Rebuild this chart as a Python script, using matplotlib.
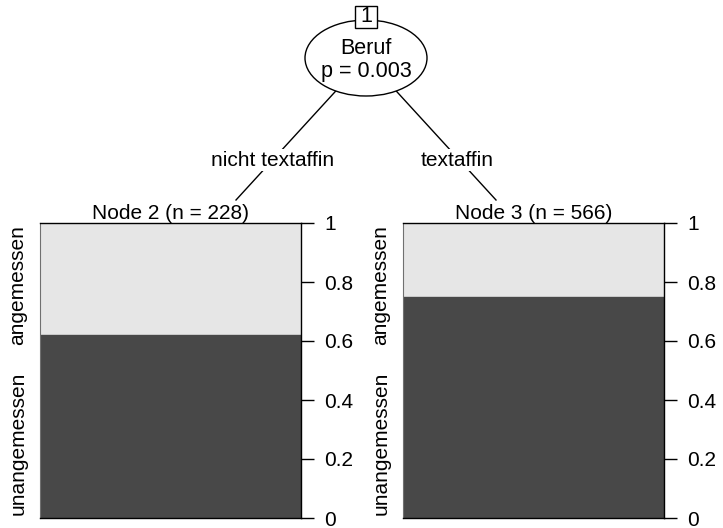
import matplotlib
matplotlib.use("Agg")
import matplotlib.pyplot as plt
from matplotlib.patches import Ellipse, Rectangle

plt.rcParams['font.family'] = ['Liberation Sans', 'DejaVu Sans']
plt.rcParams['font.size'] = 15

# data of the fitted tree
split_var = "Beruf"
split_p = "p = 0.003"
branch_labels = ["nicht textaffin", "textaffin"]
node_ids = [2, 3]
node_n = [228, 566]
share_unangemessen = [0.624, 0.753]   # bottom (dark) part
classes = ["unangemessen", "angemessen"]
class_label_pos = [0.254, 0.79]
yticks = [0, 0.2, 0.4, 0.6, 0.8, 1]
ytick_labels = ["0", "0.2", "0.4", "0.6", "0.8", "1"]

W, H = 723, 528
fig = plt.figure(figsize=(W / 100, H / 100), dpi=100)

# overlay in pixel coordinates for the tree part
tree = fig.add_axes([0, 0, 1, 1])
tree.set_xlim(0, W)
tree.set_ylim(H, 0)
tree.axis("off")

root = (366, 58)
ends = [(236, 200), (496, 200)]
lab_xy = [(273, 160), (457, 160)]
for (ex, ey), (lx, ly), lab in zip(ends, lab_xy, branch_labels):
    tree.plot([root[0], ex], [root[1], ey], color="black", lw=1, zorder=1)
    tree.text(lx, ly, lab, ha="center", va="center", zorder=3,
              bbox=dict(facecolor="white", edgecolor="none", pad=1))

tree.add_patch(Ellipse((366, 58), 122, 76, facecolor="white",
                       edgecolor="black", lw=1, zorder=4))
tree.text(root[0], 48, split_var, ha="center", va="center", zorder=5,
          fontsize=15.5)
tree.text(root[0], 72, split_p, ha="center", va="center", zorder=5,
          fontsize=15.5)
tree.add_patch(Rectangle((355, 6), 22, 22, facecolor="white",
                         edgecolor="black", lw=1, zorder=6))
tree.text(366, 17, "1", ha="center", va="center", zorder=7, fontsize=15.5)

panel_left = [40, 403]
for i, x0 in enumerate(panel_left):
    ax = fig.add_axes([x0 / W, 10 / H, 261 / W, 295 / H])
    p = share_unangemessen[i]
    ax.bar(0.5, p, width=1, color="#484848", edgecolor="#5a5a5a", lw=0.6)
    ax.bar(0.5, 1 - p, bottom=p, width=1, color="#e6e6e6",
           edgecolor="#d0d0d0", lw=0.6)
    ax.set_xlim(0, 1)
    ax.set_ylim(0, 1)
    ax.set_xticks([])
    ax.yaxis.tick_right()
    ax.set_yticks(yticks)
    ax.set_yticklabels(ytick_labels)
    ax.tick_params(axis="y", length=9.5, width=1, pad=7, labelsize=15)
    for s in ["right", "bottom", "top"]:
        ax.spines[s].set_color("black")
        ax.spines[s].set_linewidth(1)
    ax.spines["left"].set_color("#707070")
    ax.spines["left"].set_linewidth(0.8)
    ax.set_title(f"Node {node_ids[i]} (n = {node_n[i]})", fontsize=15, pad=2)
    for cl, yp in zip(classes, class_label_pos):
        ax.text(-0.085, yp, cl, rotation=90, ha="center", va="center",
                transform=ax.transAxes)

fig.savefig("out.png", dpi=100)
